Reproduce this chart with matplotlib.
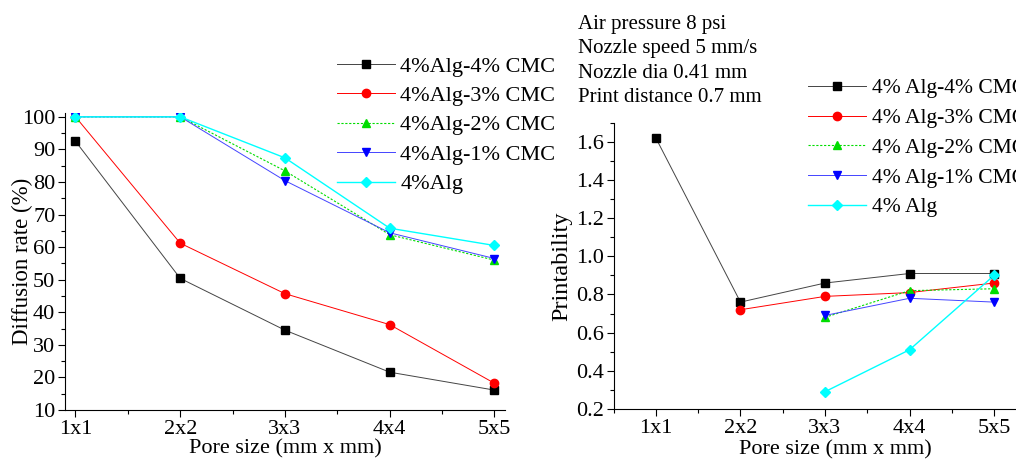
import numpy as np
import matplotlib.pyplot as plt
from matplotlib.ticker import MultipleLocator

plt.rcParams['font.family'] = ['Liberation Serif', 'DejaVu Serif']
plt.rcParams['font.size'] = 16

# data
pore_sizes = ['1x1', '2x2', '3x3', '4x4', '5x5']
x = np.arange(1, 6)

diff_4cmc = [92.5, 50.4, 34.5, 21.6, 16.1]
diff_3cmc = [100, 61.2, 45.7, 36.2, 18.2]
diff_2cmc = [100, 100, 83.4, 63.8, 56.0]
diff_1cmc = [100, 100, 80.4, 64.4, 56.5]
diff_alg = [100, 100, 87.4, 65.8, 60.5]

pr_4cmc = [1.62, 0.76, 0.86, 0.91, 0.91]
pr_3cmc = [np.nan, 0.72, 0.79, 0.81, 0.86]
pr_2cmc = [np.nan, np.nan, 0.68, 0.82, 0.83]
pr_1cmc = [np.nan, np.nan, 0.69, 0.78, 0.76]
pr_alg = [np.nan, np.nan, 0.29, 0.51, 0.90]

left_labels = ['4%Alg-4% CMC', '4%Alg-3% CMC', '4%Alg-2% CMC', '4%Alg-1% CMC', '4%Alg']
right_labels = ['4% Alg-4% CMC', '4% Alg-3% CMC', '4% Alg-2% CMC', '4% Alg-1% CMC', '4% Alg']

styles = [
    dict(color='black', marker='s', ls='-', lw=0.7, c_line='#444444'),
    dict(color='red', marker='o', ls='-', lw=0.7, c_line='red'),
    dict(color='#00dd00', marker='^', ls=(0, (2, 1.5)), lw=0.8, c_line='#00dd00'),
    dict(color='blue', marker='v', ls='-', lw=0.7, c_line='#4444ff'),
    dict(color='cyan', marker='D', ls='-', lw=1.0, c_line='cyan'),
]

fig = plt.figure(figsize=(10.16, 4.62), dpi=100)
ax1 = fig.add_axes([0.064, 0.1126, 0.433, 0.643])
ax2 = fig.add_axes([0.604, 0.115, 0.416, 0.619])


def draw(ax, series, labels):
    for y, lab, st in zip(series, labels, styles):
        ms = 5 if st['marker'] == 'D' else 6
        ax.plot(x, y, color=st['c_line'], ls=st['ls'], lw=st['lw'],
                marker=st['marker'], markersize=ms, markerfacecolor=st['color'],
                markeredgecolor=st['color'], label=lab)
    ax.set_xticks(x)
    ax.set_xticklabels(pore_sizes)
    ax.xaxis.set_minor_locator(MultipleLocator(0.5))
    for s in ['top', 'right']:
        ax.spines[s].set_visible(False)
    ax.tick_params(which='major', length=5, width=0.8, labelsize=16, pad=2)
    ax.tick_params(which='minor', length=3, width=0.8)
    ax.set_xlabel('Pore size (mm x mm)', fontsize=16)


leg_kw = dict(frameon=False, handlelength=2.6, labelspacing=0.4, borderaxespad=0,
              handletextpad=0.25, bbox_transform=fig.transFigure, loc='upper left')

draw(ax1, [diff_4cmc, diff_3cmc, diff_2cmc, diff_1cmc, diff_alg], left_labels)
ax1.set_xlim(0.9, 5.1)
ax1.set_ylim(10, 101.2)
ax1.yaxis.set_major_locator(MultipleLocator(10))
ax1.yaxis.set_minor_locator(MultipleLocator(5))
ax1.set_ylabel('Diffusion rate (%)', fontsize=16.5)
ax1.yaxis.set_label_coords(-0.073, 0.5)
ax1.xaxis.set_label_coords(0.5, -0.10)
ax1.legend(bbox_to_anchor=(0.323, 0.898), **leg_kw)

draw(ax2, [pr_4cmc, pr_3cmc, pr_2cmc, pr_1cmc, pr_alg], right_labels)
ax2.set_xlim(0.5, 5.5)
ax2.set_ylim(0.2, 1.7)
ax2.yaxis.set_major_locator(MultipleLocator(0.2))
ax2.yaxis.set_minor_locator(MultipleLocator(0.1))
ax2.set_ylabel('Printability', fontsize=17.5)
ax2.yaxis.set_label_coords(-0.097, 0.5)
ax2.xaxis.set_label_coords(0.524, -0.108)
ax2.legend(bbox_to_anchor=(0.787, 0.849), fontsize=15.5,
           **dict(leg_kw, labelspacing=0.45, handlelength=2.7))

fig.text(0.569, 0.967, 'Air pressure 8 psi\nNozzle speed 5 mm/s\nNozzle dia 0.41 mm\nPrint distance 0.7 mm',
         va='top', ha='left', linespacing=1.37, fontsize=15)

fig.savefig('out.png', dpi=100)
